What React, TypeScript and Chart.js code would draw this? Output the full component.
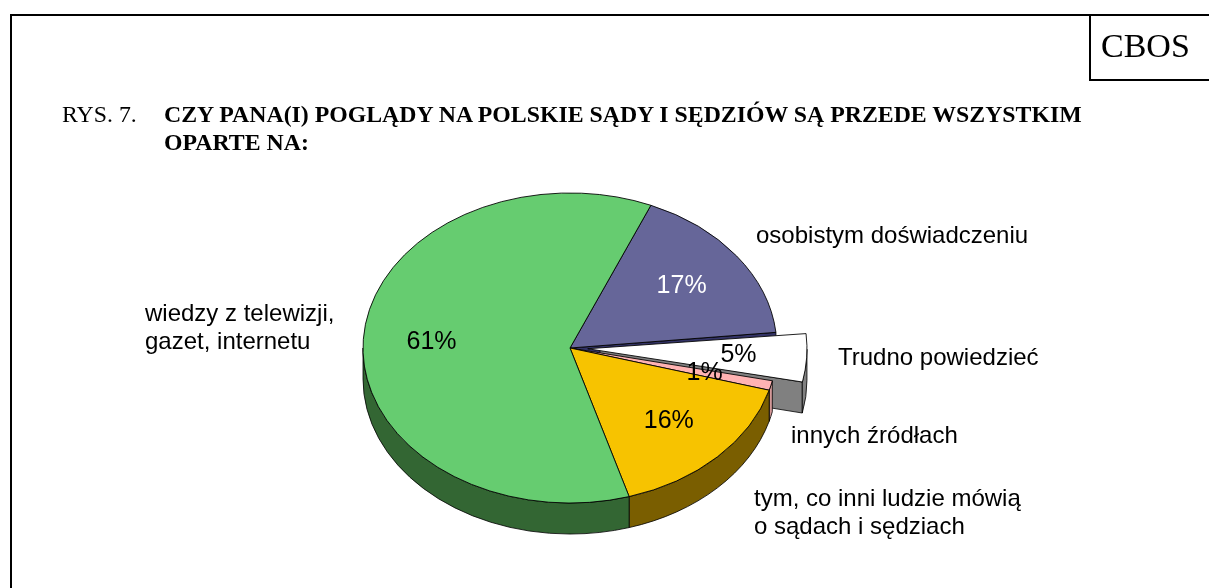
import React, { useEffect, useRef } from 'react';
import { Chart, registerables } from 'chart.js';

Chart.register(...registerables);

// ---- data ----
const categories = [
  'osobistym doświadczeniu',
  'Trudno powiedzieć',
  'innych źródłach',
  'tym, co inni ludzie mówią o sądach i sędziach',
  'wiedzy z telewizji, gazet, internetu',
];
const values = [17, 5, 1, 16, 61];
const categoryLines = [
  ['osobistym doświadczeniu'],
  ['Trudno powiedzieć'],
  ['innych źródłach'],
  ['tym, co inni ludzie mówią', 'o sądach i sędziach'],
  ['wiedzy z telewizji,', 'gazet, internetu'],
];

// ---- styles ----
const TOP_COLORS = ['#666699', '#FFFFFF', '#FFB3B3', '#F7C300', '#66CC70'];
const SIDE_COLORS = ['#333366', '#808080', '#D49999', '#7A5E00', '#336633'];
const PCT_COLORS = ['#FFFFFF', '#000000', '#000000', '#000000', '#000000'];
const EXPLODE = [0, 71, 0, 0, 0];

const W = 1209;
const H = 588;
const K = 0.749; // vertical squash (tilt)
const DEPTH = 31;
const RADIUS = 207;
const PCT_FRAC = 0.67;
const LABEL_FONT = '24px "Liberation Sans", Arial, sans-serif';
const PCT_FONT = '25px "Liberation Sans", Arial, sans-serif';
const LABEL_POS: [number, number][] = [
  [756, 243],
  [838, 365],
  [791, 443],
  [754, 506],
  [145, 321],
];
const LINE_GAP = 28;

function makePlugin() {
  let geo: any[] = [];
  let saved = false;
  return {
    id: 'pie3d',
    beforeDatasetsDraw(chart: any) {
      const meta = chart.getDatasetMeta(0);
      const arcs = meta.data as any[];
      saved = false;
      if (!arcs.length) return;
      const ctx = chart.ctx as CanvasRenderingContext2D;
      const cx = arcs[0].x;
      const cy = arcs[0].y;
      geo = arcs.map((a: any, i: number) => {
        const mid = (a.startAngle + a.endAngle) / 2;
        const off = (a.options.offset || 0) / 4;
        const fix = 1 - Math.sin(Math.min(Math.PI, a.circumference || 0));
        const d = off + off * fix;
        return {
          s: a.startAngle,
          e: a.endAngle,
          r: a.outerRadius,
          ox: cx + Math.cos(mid) * d,
          oy: cy + K * Math.sin(mid) * d,
          mid,
          i,
        };
      });
      const n = geo.length;
      ctx.save();
      ctx.lineWidth = 0.8;
      ctx.strokeStyle = '#000';
      ctx.lineJoin = 'round';
      // cut faces next to exploded slices
      geo.forEach((g, i) => {
        const near = EXPLODE[i] > 0 || EXPLODE[(i + 1) % n] > 0 || EXPLODE[(i - 1 + n) % n] > 0;
        if (!near) return;
        [g.s, g.e].forEach((a: number, j: number) => {
          const visible = j === 1 ? Math.cos(a) > 0 : Math.cos(a) < 0;
          if (!visible) return;
          const x1 = g.ox + g.r * Math.cos(a);
          const y1 = g.oy + K * g.r * Math.sin(a);
          ctx.beginPath();
          ctx.moveTo(g.ox, g.oy);
          ctx.lineTo(x1, y1);
          ctx.lineTo(x1, y1 + DEPTH);
          ctx.lineTo(g.ox, g.oy + DEPTH);
          ctx.closePath();
          ctx.fillStyle = SIDE_COLORS[i];
          ctx.fill();
          ctx.stroke();
        });
      });
      // outer walls (front half only)
      geo.forEach((g, i) => {
        for (const base of [-2 * Math.PI, 0, 2 * Math.PI]) {
          const s = Math.max(g.s, base);
          const e = Math.min(g.e, base + Math.PI);
          if (e <= s) continue;
          ctx.beginPath();
          ctx.ellipse(g.ox, g.oy, g.r, g.r * K, 0, s, e, false);
          ctx.lineTo(g.ox + g.r * Math.cos(e), g.oy + K * g.r * Math.sin(e) + DEPTH);
          ctx.ellipse(g.ox, g.oy + DEPTH, g.r, g.r * K, 0, e, s, true);
          ctx.closePath();
          ctx.fillStyle = SIDE_COLORS[i];
          ctx.fill();
          ctx.stroke();
        }
      });
      ctx.restore();
      ctx.save();
      ctx.translate(cx, cy);
      ctx.scale(1, K);
      ctx.translate(-cx, -cy);
      saved = true;
    },
    afterDatasetsDraw(chart: any) {
      const ctx = chart.ctx as CanvasRenderingContext2D;
      if (saved) ctx.restore();
      saved = false;
      // percentage labels
      ctx.save();
      ctx.font = PCT_FONT;
      ctx.textAlign = 'center';
      ctx.textBaseline = 'middle';
      geo.forEach((g, i) => {
        const x = g.ox + Math.cos(g.mid) * g.r * PCT_FRAC;
        const y = g.oy + K * Math.sin(g.mid) * g.r * PCT_FRAC;
        ctx.fillStyle = PCT_COLORS[i];
        ctx.fillText(values[i] + '%', x, y);
      });
      // category labels
      ctx.font = LABEL_FONT;
      ctx.textAlign = 'left';
      ctx.textBaseline = 'alphabetic';
      ctx.fillStyle = '#000';
      categoryLines.forEach((lines, i) => {
        const [lx, ly] = LABEL_POS[i];
        lines.forEach((t, j) => ctx.fillText(t, lx, ly + j * LINE_GAP));
      });
      ctx.restore();
    },
  };
}

export default function App() {
  const ref = useRef<HTMLCanvasElement | null>(null);
  useEffect(() => {
    if (!ref.current) return;
    const chart = new Chart(ref.current, {
      type: 'pie',
      data: {
        labels: categories,
        datasets: [
          {
            data: values,
            backgroundColor: TOP_COLORS,
            borderColor: '#000000',
            borderWidth: 1,
            offset: EXPLODE,
            hoverOffset: 0,
            radius: RADIUS,
            clip: false,
          } as any,
        ],
      },
      options: {
        responsive: false,
        animation: false,
        rotation: 23,
        events: [],
        layout: { padding: { left: 0, right: 69, top: 108, bottom: 0 } },
        plugins: {
          legend: { display: false },
          tooltip: { enabled: false },
          title: { display: false },
        },
      } as any,
      plugins: [makePlugin() as any],
    });
    return () => chart.destroy();
  }, []);

  const serif = '"Liberation Serif", "Times New Roman", serif';
  return (
    <div style={{ position: 'fixed', left: 0, top: 0, width: W, height: H, overflow: 'hidden', background: '#fff' }}>
      <canvas ref={ref} width={W} height={H} style={{ position: 'absolute', left: 0, top: 0, display: 'block' }} />
      <div style={{ position: 'absolute', left: 10, top: 14, width: W, height: H, borderLeft: '2px solid #000', borderTop: '2px solid #000', pointerEvents: 'none' }} />
      <div style={{ position: 'absolute', left: 1089, top: 14, width: 200, height: 65, borderLeft: '2px solid #000', borderBottom: '2px solid #000' }} />
      <div style={{ position: 'absolute', left: 1101, top: 29, fontFamily: serif, fontSize: 34, lineHeight: '34px', whiteSpace: 'nowrap' }}>CBOS</div>
      <div style={{ position: 'absolute', left: 62, top: 100, fontFamily: serif, fontSize: 23.8, lineHeight: '28px', whiteSpace: 'nowrap' }}>RYS. 7.</div>
      <div style={{ position: 'absolute', left: 164, top: 100, fontFamily: serif, fontSize: 23.8, lineHeight: '28px', fontWeight: 'bold', whiteSpace: 'nowrap' }}>
        <div>CZY PANA(I) POGLĄDY NA POLSKIE SĄDY I SĘDZIÓW SĄ PRZEDE WSZYSTKIM</div>
        <div>OPARTE NA:</div>
      </div>
    </div>
  );
}
